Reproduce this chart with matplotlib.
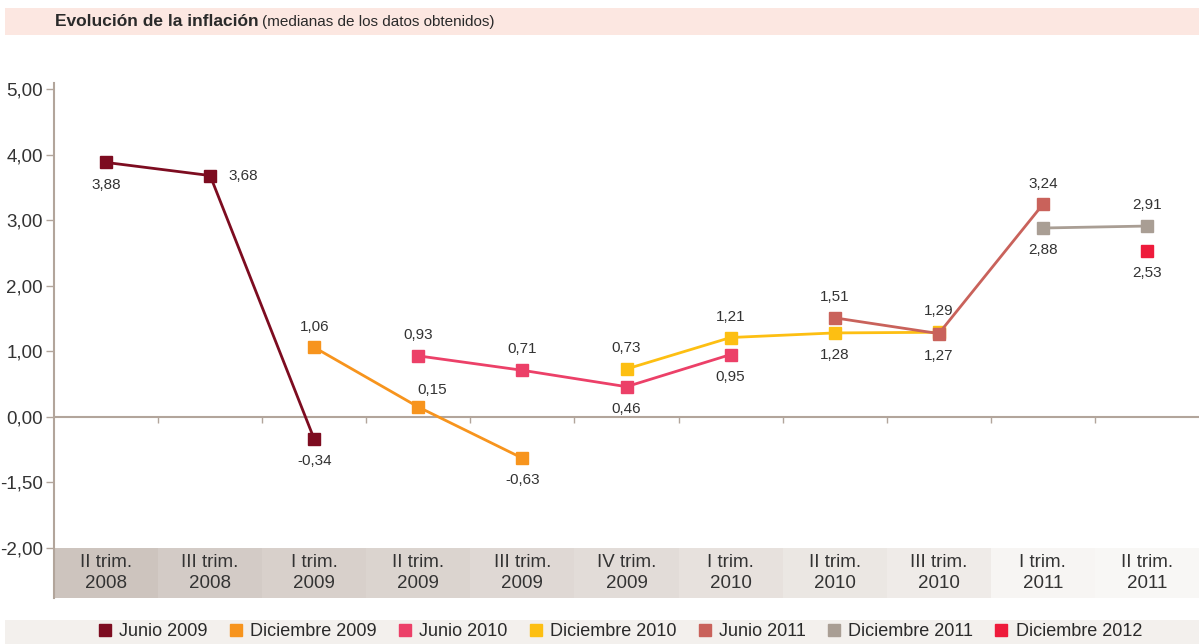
import matplotlib
matplotlib.use("Agg")
import matplotlib.pyplot as plt
from matplotlib.patches import Rectangle
from matplotlib.lines import Line2D

plt.rcParams['font.family'] = ['Liberation Sans', 'DejaVu Sans']

categories = ['II trim.\n2008', 'III trim.\n2008', 'I trim.\n2009', 'II trim.\n2009',
              'III trim.\n2009', 'IV trim.\n2009', 'I trim.\n2010', 'II trim.\n2010',
              'III trim.\n2010', 'I trim.\n2011', 'II trim.\n2011']
y_ticks = [5, 4, 3, 2, 1, 0, -1, -2]
y_ticklabels = ['5,00', '4,00', '3,00', '2,00', '1,00', '0,00', '-1,50', '-2,00']

# each survey: name, first category index, medians
series_names = ['Junio 2009', 'Diciembre 2009', 'Junio 2010', 'Diciembre 2010',
                'Junio 2011', 'Diciembre 2011', 'Diciembre 2012']
series_start = [0, 2, 3, 5, 7, 9, 10]
series_values = [
    [3.88, 3.68, -0.34],
    [1.06, 0.15, -0.63],
    [0.93, 0.71, 0.46, 0.95],
    [0.73, 1.21, 1.28, 1.29],
    [1.51, 1.27, 3.24],
    [2.88, 2.91],
    [2.53],
]
# where each value label sits: a=above, b=below, r=right
label_pos = [
    ['b', 'r', 'b'],
    ['a', 'ar', 'b'],
    ['a', 'a', 'b', 'b'],
    ['a', 'a', 'b', 'a'],
    ['a', 'b', 'a'],
    ['b', 'a'],
    ['b'],
]
colors = ['#7d0c20', '#f7941d', '#ec4068', '#fdbf12', '#c9625b', '#a99e94', '#ee1b3b']

cell_colors = ['#cdc4be', '#d3cbc6', '#d8d0cb', '#dbd4cf', '#dfd8d4', '#e2dcd8',
               '#e7e1dd', '#ebe7e3', '#efebe8', '#f7f5f3', '#f8f7f5']

W, H = 1199, 644
fig = plt.figure(figsize=(W / 100, H / 100), dpi=100)
ax = fig.add_axes([54 / W, 1 - 598 / H, (W - 54) / W, (598 - 83) / H])

px_per_unit = (548 - 89) / 7
ybot = -2 - (598 - 548) / px_per_unit
ytop = 5 + (89 - 83) / px_per_unit
n = len(categories)
ax.set_xlim(0, n)
ax.set_ylim(ybot, ytop)

axis_col = '#b2a59b'
for s in ['top', 'right', 'bottom']:
    ax.spines[s].set_visible(False)
ax.spines['left'].set_color(axis_col)
ax.spines['left'].set_linewidth(1.5)

ax.set_yticks(y_ticks)
ax.set_yticklabels(y_ticklabels)
ax.tick_params(axis='y', length=6, width=1, color=axis_col, labelsize=13.5,
               labelcolor='#333333', pad=2)
ax.set_xticks([])

# category band under the plot
for i, lab in enumerate(categories):
    ax.add_patch(Rectangle((i, ybot), 1, -2 - ybot, facecolor=cell_colors[i],
                           edgecolor='none', zorder=0))
    ax.text(i + 0.5, (ybot - 2) / 2, lab, ha='center', va='center',
            fontsize=13.5, color='#333333', linespacing=1.3)

# zero line with category separators
ax.axhline(0, color=axis_col, lw=1.5, zorder=1)
ax.vlines(range(1, n), -0.09, 0, color=axis_col, lw=1, zorder=1)

offsets = {'a': (0, 15), 'b': (0, -16), 'r': (24, 0), 'ar': (10, 12)}
for name, start, vals, pos, c in zip(series_names, series_start, series_values,
                                     label_pos, colors):
    xs = [start + i + 0.5 for i in range(len(vals))]
    ax.plot(xs, vals, color=c, lw=2, marker='s', markersize=9,
            markeredgecolor=c, zorder=3)
    for x, v, p in zip(xs, vals, pos):
        ax.annotate('{:.2f}'.format(v).replace('.', ','), (x, v),
                    xytext=offsets[p], textcoords='offset points',
                    ha='center', va='center', fontsize=11, color='#333333')

# header band
fig.patches.append(Rectangle((5 / W, 1 - 35 / H), (W - 5) / W, 27 / H,
                             transform=fig.transFigure, facecolor='#fce7e1',
                             edgecolor='none', zorder=0))
t = fig.text(55 / W, 1 - 22 / H, 'Evolución de la inflación', fontsize=12.5,
             fontweight='bold', color='#2a2a2a', va='center')
fig.canvas.draw()
bb = t.get_window_extent()
fig.text(bb.x1 / W + 3 / W, 1 - 22 / H, '(medianas de los datos obtenidos)',
         fontsize=11, color='#2a2a2a', va='center')

# legend band
fig.patches.append(Rectangle((5 / W, 0), (W - 5) / W, 24 / H,
                             transform=fig.transFigure, facecolor='#f3f0ed',
                             edgecolor='none', zorder=0))
handles = [Line2D([], [], linestyle='none', marker='s', markersize=9,
                  color=c) for c in colors]
fig.legend(handles, series_names, loc='center', bbox_to_anchor=(619 / W, 12 / H),
           ncol=len(series_names), frameon=False, fontsize=13,
           handletextpad=0.3, columnspacing=1.05, handlelength=1.0,
           labelcolor='#2a2a2a')

fig.savefig('out.png', dpi=100)
